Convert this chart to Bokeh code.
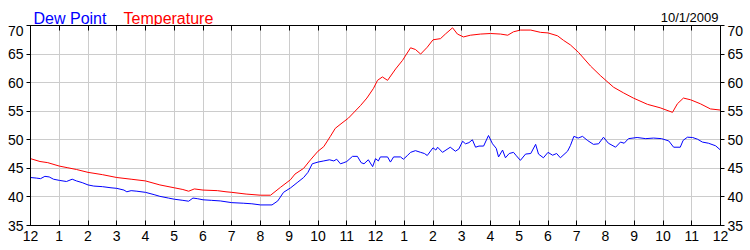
from bokeh.plotting import figure
from bokeh.models import LinearAxis, FixedTicker, Range1d, Label
from bokeh.layouts import column
from bokeh.embed import file_html
from bokeh.resources import INLINE

# ---- data ----
hour_ticks = list(range(25))
hour_labels = ["12", "1", "2", "3", "4", "5", "6", "7", "8", "9", "10", "11",
               "12", "1", "2", "3", "4", "5", "6", "7", "8", "9", "10", "11", "12"]
y_ticks = [35, 40, 45, 50, 55, 60, 65, 70]

temp_h = [0.0, 0.33, 0.6, 1.0, 1.3, 1.6, 2.0, 2.5, 3.0, 3.5, 4.0, 4.5, 5.0, 5.3, 5.5, 5.7,
          6.0, 6.5, 6.8, 7.0, 7.5, 8.0, 8.35, 8.7, 9.04, 9.2, 9.5, 9.74, 10.0, 10.2, 10.43,
          10.6, 10.8, 11.06, 11.48, 11.7, 11.93, 12.07, 12.24, 12.42, 12.7, 12.94, 13.22,
          13.39, 13.57, 13.8, 14.0, 14.26, 14.43, 14.68, 14.85, 15.06, 15.3, 15.65, 16.0,
          16.35, 16.6, 16.8, 17.04, 17.4, 17.74, 18.0, 18.33, 18.54, 18.78, 19.06, 19.48,
          19.83, 20.28, 20.63, 20.97, 21.46, 21.9, 22.33, 22.5, 22.71, 22.96, 23.3, 23.65, 24.0]
temp_v = [46.7, 46.2, 46.0, 45.4, 45.1, 44.8, 44.3, 43.9, 43.4, 43.1, 42.8, 42.1, 41.6, 41.3, 41.0, 41.4,
          41.2, 41.1, 40.9, 40.8, 40.5, 40.3, 40.3, 41.7, 43.0, 44.0, 45.0, 46.5, 48.0, 48.8, 50.6,
          52.0, 52.8, 53.8, 56.0, 57.3, 59.0, 60.4, 61.0, 60.4, 62.4, 63.9, 66.1,
          65.8, 65.0, 66.2, 67.5, 67.7, 68.5, 69.6, 68.5, 68.0, 68.3, 68.5, 68.6,
          68.5, 68.3, 68.9, 69.2, 69.2, 68.8, 68.7, 68.2, 67.4, 66.6, 65.3, 62.9,
          61.2, 59.2, 58.2, 57.3, 56.2, 55.6, 54.8, 56.3, 57.3, 57.0, 56.3, 55.4, 55.2]

dew_h = [0.0, 0.2, 0.35, 0.5, 0.65, 0.8, 1.0, 1.25, 1.45, 1.6, 1.8, 2.0, 2.2, 2.5, 2.8, 3.0,
         3.25, 3.35, 3.5, 3.7, 4.0, 4.3, 4.5, 4.8, 5.0, 5.3, 5.5, 5.65, 5.8, 6.0, 6.3, 6.6,
         7.0, 7.4, 7.7, 8.0, 8.4, 8.6, 8.8, 9.05, 9.3, 9.5, 9.65, 9.8, 10.0, 10.2, 10.4,
         10.55, 10.65, 10.78, 10.9, 11.0, 11.2, 11.37, 11.5, 11.6, 11.75, 11.9, 12.0, 12.1,
         12.17, 12.42, 12.52, 12.63, 12.87, 12.97, 13.1, 13.22, 13.39, 13.57, 13.7, 13.8,
         14.0, 14.1, 14.16, 14.33, 14.6, 14.78, 14.9, 15.03, 15.13, 15.25, 15.37, 15.48,
         15.6, 15.76, 15.93, 16.07, 16.2, 16.28, 16.42, 16.52, 16.65, 16.8, 16.9, 17.04,
         17.22, 17.4, 17.57, 17.67, 17.84, 18.0, 18.16, 18.3, 18.43, 18.68, 18.78, 18.9,
         19.05, 19.2, 19.37, 19.58, 19.76, 19.93, 20.1, 20.35, 20.52, 20.65, 20.8, 21.1,
         21.4, 21.67, 21.95, 22.2, 22.37, 22.6, 22.7, 22.85, 23.03, 23.2, 23.37, 23.58,
         23.83, 24.0]
dew_v = [43.4, 43.3, 43.2, 43.6, 43.5, 43.1, 42.9, 42.7, 43.1, 42.8, 42.5, 42.1, 41.9, 41.8, 41.6, 41.5,
         41.2, 40.9, 41.1, 41.0, 40.8, 40.4, 40.1, 39.8, 39.6, 39.4, 39.25, 39.8, 39.7, 39.5, 39.4, 39.3,
         39.0, 38.9, 38.8, 38.6, 38.6, 39.3, 40.8, 41.6, 42.6, 43.4, 44.3, 45.8, 46.1, 46.3, 46.5,
         46.3, 46.6, 45.8, 46.0, 46.2, 47.1, 47.1, 46.0, 45.8, 46.5, 45.3, 46.7, 46.3,
         47.0, 47.0, 46.1, 47.0, 47.0, 46.6, 47.2, 47.8, 48.1, 47.8, 47.6, 47.25,
         48.6, 48.2, 48.7, 47.8, 48.7, 48.0, 48.4, 49.75, 49.3, 49.5, 50.0, 48.7,
         48.9, 48.9, 50.75, 49.3, 48.5, 47.0, 48.2, 46.85, 47.6, 47.8, 47.2, 46.4,
         47.5, 47.6, 49.2, 47.5, 46.85, 47.8, 47.3, 47.6, 46.85, 48.0, 49.0, 50.6,
         50.3, 50.6, 49.9, 49.2, 49.3, 50.45, 49.4, 48.7, 49.6, 49.4, 50.2, 50.4,
         50.2, 50.3, 50.2, 49.8, 48.7, 48.7, 49.9, 50.45, 50.4, 50.1, 49.6, 49.4,
         48.95, 48.2]

series_names = ["Dew Point", "Temperature"]
date_text = "10/1/2009"

FONT = "Liberation Sans"
TICK_PX = "14px"

# ---- header strip with the series names and date ----
# its frame is aligned by the column layout with the chart frame (page x 30..720),
# so the x range is expressed in page pixels
head = figure(width=750, height=25, output_backend="svg", toolbar_location=None,
              x_range=Range1d(30, 720), y_range=Range1d(0, 25),
              x_axis_location=None, y_axis_location=None,
              min_border_left=30, min_border_right=30, min_border_top=0, min_border_bottom=0,
              outline_line_color=None,
              background_fill_color="white", border_fill_color="white")
head.grid.visible = False
head.add_layout(Label(x=33, y=6.7, text=series_names[0], text_color="#0000ff",
                      text_font=FONT, text_font_size="16px", text_baseline="alphabetic"))
head.add_layout(Label(x=123, y=6.7, text=series_names[1], text_color="#ff0000",
                      text_font=FONT, text_font_size="16px", text_baseline="alphabetic"))
head.add_layout(Label(x=718, y=8.3, text=date_text, text_color="black", text_align="right",
                      text_font=FONT, text_font_size="13px", text_baseline="alphabetic"))

# ---- main chart ----
p = figure(frame_width=690, frame_height=200, output_backend="svg", toolbar_location=None,
           x_range=Range1d(0, 24), y_range=Range1d(35, 70),
           min_border_left=30, min_border_right=30, min_border_top=0, min_border_bottom=25,
           background_fill_color="white", border_fill_color="white")
p.outline_line_color = "black"

overrides = {t: l for t, l in zip(hour_ticks, hour_labels)}

xa = p.xaxis[0]
xa.ticker = FixedTicker(ticks=hour_ticks)
xa.major_label_overrides = overrides
xa.major_tick_in = 5
xa.major_tick_out = 0
xa.minor_tick_line_color = None
xa.axis_line_color = "black"
xa.major_tick_line_color = "black"
xa.major_label_standoff = 5
xa.major_label_text_font = FONT
xa.major_label_text_font_size = TICK_PX
xa.major_label_text_color = "black"

ya = p.yaxis[0]
ya.ticker = FixedTicker(ticks=y_ticks)
ya.major_tick_in = 0
ya.major_tick_out = 4
ya.minor_tick_line_color = None
ya.axis_line_color = "black"
ya.major_tick_line_color = "black"
ya.major_label_standoff = 3
ya.major_label_text_font = FONT
ya.major_label_text_font_size = TICK_PX
ya.major_label_text_color = "black"

top = LinearAxis(ticker=FixedTicker(ticks=hour_ticks), major_tick_in=5, major_tick_out=0,
                 minor_tick_line_color=None, axis_line_color="black",
                 major_tick_line_color="black", major_label_text_font_size="0px",
                 major_label_standoff=0)
p.add_layout(top, "above")

right = LinearAxis(ticker=FixedTicker(ticks=y_ticks), major_tick_in=0, major_tick_out=4,
                   minor_tick_line_color=None, axis_line_color="black",
                   major_tick_line_color="black", major_label_standoff=3,
                   major_label_text_font=FONT, major_label_text_font_size=TICK_PX,
                   major_label_text_color="black")
p.add_layout(right, "right")

p.xgrid.ticker = FixedTicker(ticks=hour_ticks)
p.ygrid.ticker = FixedTicker(ticks=y_ticks)
for g in (p.xgrid[0], p.ygrid[0]):
    g.grid_line_color = "#cccccc"
    g.grid_line_width = 1

p.line(temp_h, temp_v, line_color="#ff0000", line_width=1)
p.line(dew_h, dew_v, line_color="#0000ff", line_width=1)

layout = column(head, p, spacing=0)
open("out.html", "w").write(file_html(layout, INLINE))
